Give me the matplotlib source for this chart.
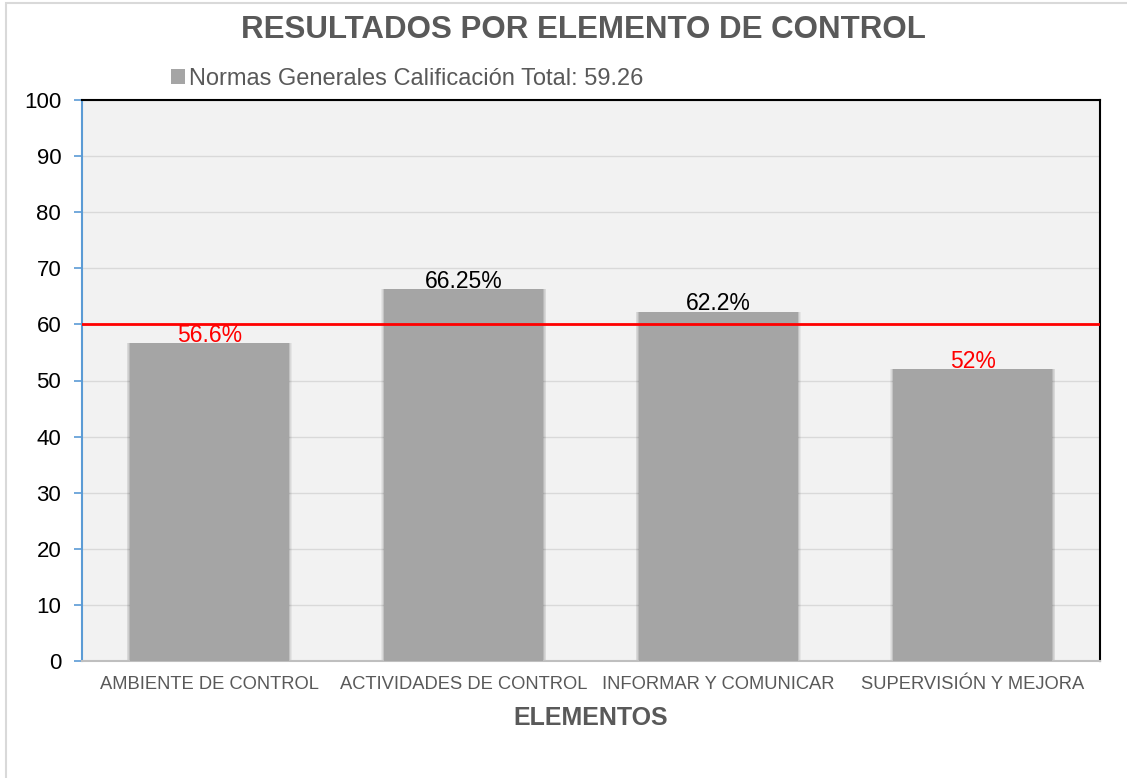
import matplotlib
matplotlib.use("Agg")
import matplotlib.pyplot as plt
from matplotlib.patches import Rectangle

categories = ["AMBIENTE DE CONTROL", "ACTIVIDADES DE CONTROL", "INFORMAR Y COMUNICAR", "SUPERVISIÓN Y MEJORA"]
values = [56.6, 66.25, 62.2, 52]
value_labels = ["56.6%", "66.25%", "62.2%", "52%"]
label_colors = ["#ff0000", "#000000", "#000000", "#ff0000"]
threshold = 60
yticks = [0, 10, 20, 30, 40, 50, 60, 70, 80, 90, 100]
title = "RESULTADOS POR ELEMENTO DE CONTROL"
legend_label = "Normas Generales Calificación Total: 59.26"
xlabel = "ELEMENTOS"

plt.rcParams["font.family"] = ["Liberation Sans", "DejaVu Sans"]

fig = plt.figure(figsize=(11.27, 7.78), dpi=100)
ax = fig.add_axes([82/1127, 1-661/778, (1100-82)/1127, (661-100)/778])
ax.set_facecolor("#f2f2f2")

x = list(range(len(categories)))
bw = 0.625
# soft shadow around bars
for k in range(1, 6):
    ax.bar(x, values, width=bw + 0.0045 * k, color="#404040", alpha=0.07, zorder=2, linewidth=0)
bars = ax.bar(x, values, width=bw, color="#a5a5a5", zorder=3, label=legend_label)

for xi, v, lab, c in zip(x, values, value_labels, label_colors):
    ax.text(xi, v - 0.6, lab, ha="center", va="bottom", fontsize=16.5, color=c, zorder=5)

ax.axhline(threshold, color="#ff0000", lw=2, zorder=4)

ax.set_xlim(-0.5, len(categories) - 0.5)
ax.set_ylim(0, 100)
ax.set_yticks(yticks)
ax.tick_params(axis="y", labelsize=16, colors="#000000", length=6, width=1.2, color="#5b9bd5", pad=9)
ax.tick_params(axis="x", length=0, labelsize=13.2, labelcolor="#595959", pad=11)
ax.set_xticks(x)
ax.set_xticklabels(categories)
ax.yaxis.grid(True, color="#d9d9d9", lw=1, zorder=0)
ax.set_axisbelow(True)

ax.spines["left"].set_color("#5b9bd5")
ax.spines["left"].set_linewidth(1.5)
ax.spines["bottom"].set_color("#bfbfbf")
ax.spines["bottom"].set_linewidth(1.5)
ax.spines["top"].set_color("#000000")
ax.spines["top"].set_linewidth(1.5)
ax.spines["right"].set_color("#000000")
ax.spines["right"].set_linewidth(1.5)

ax.set_xlabel(xlabel, fontsize=18, fontweight="bold", color="#595959", labelpad=9)

fig.text(583/1127, 1-30/778, title, ha="center", va="center", fontsize=22.5,
         fontweight="bold", color="#595959")

leg = ax.legend(handles=[bars], loc="center left", bbox_to_anchor=(171/1127, 1-79/778), bbox_transform=fig.transFigure,
                frameon=False, fontsize=17, handlelength=0.6, handleheight=0.6,
                handletextpad=0.15, borderpad=0, borderaxespad=0)
for t in leg.get_texts():
    t.set_color("#595959")

# figure border
fig.patches.append(Rectangle((6/1127, -0.01), 1.02, 1 - 3/778 + 0.01, transform=fig.transFigure,
                             fill=False, edgecolor="#d9d9d9", lw=1.5, zorder=0))

fig.savefig("out.png", dpi=100)
